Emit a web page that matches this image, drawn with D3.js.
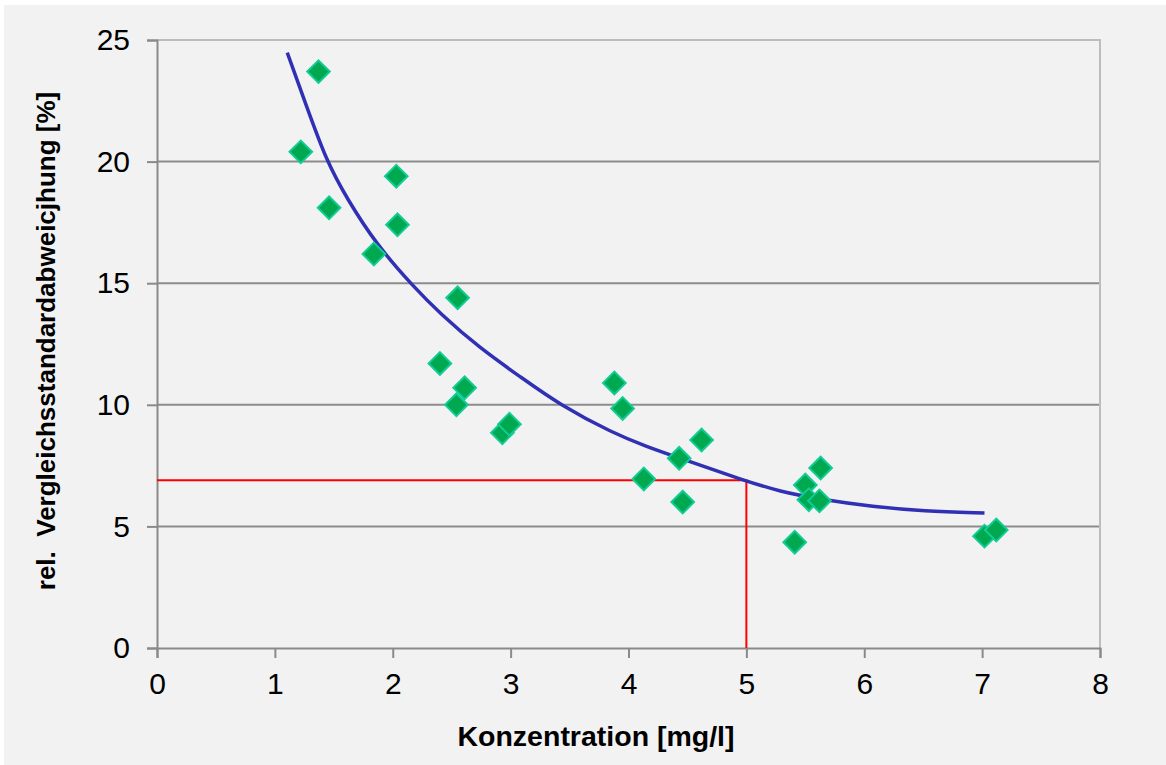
<!DOCTYPE html>
<html>
<head>
<meta charset="utf-8">
<script src="https://cdn.jsdelivr.net/npm/d3@7"></script>
<style>
  html, body { margin: 0; padding: 0; background: #fff; }
  svg { display: block; font-family: "Liberation Sans", Arial, sans-serif; }
</style>
</head>
<body>
<svg id="chart"></svg>
<script>
// measured points: concentration [mg/l] vs rel. reproducibility SD [%]
const konz = [1.37, 1.22, 1.46, 2.03, 2.04, 1.84, 2.55, 2.40, 2.61, 2.54, 2.93, 2.99,
              3.88, 3.95, 4.13, 4.43, 4.62, 4.46, 5.41, 5.50, 5.63, 5.53, 5.62, 7.02, 7.12]
const rsd  = [23.7, 20.4, 18.1, 19.4, 17.4, 16.2, 14.4, 11.7, 10.7, 10.0, 8.85, 9.2,
              10.9, 9.85, 6.95, 7.8, 8.55, 6.0, 4.35, 6.7, 7.4, 6.1, 6.05, 4.6, 4.85]

// trend line
const trendX = [1.105, 1.27, 1.44, 1.61, 1.864, 2.175, 2.40, 2.74, 3.08, 3.419, 3.87,
                4.154, 4.437, 4.97, 5.285, 5.625, 6.077, 6.5, 7.02]
const trendY = [24.48, 22.26, 20.0, 18.49, 16.57, 14.86, 13.76, 12.32, 11.16, 9.99, 8.83,
                8.28, 7.8, 6.91, 6.43, 6.12, 5.81, 5.63, 5.55]

// red reading lines
const readX = 5
const readY = 6.9

const xTicks = [0, 1, 2, 3, 4, 5, 6, 7, 8]
const yTicks = [0, 5, 10, 15, 20, 25]

const width = 1166
const height = 765
const margin = { top: 40, right: 66, bottom: 117, left: 157 }

const svg = d3.select('#chart')
    .attr('width', width)
    .attr('height', height)

// grey chart background
svg.append('rect')
    .attr('x', 4).attr('y', 5)
    .attr('width', width - 4).attr('height', height - 5)
    .attr('fill', '#f2f2f2')

const x = d3.scaleLinear()
    .domain([0, 8])
    .range([margin.left, width - margin.right])

const y = d3.scaleLinear()
    .domain([0, 25])
    .range([height - margin.bottom, margin.top])

// gridlines
svg.append('g')
    .selectAll('line')
    .data(yTicks.filter(d => d > 0 && d < 25))
    .enter()
    .append('line')
    .attr('x1', x(0)).attr('x2', x(8))
    .attr('y1', d => y(d)).attr('y2', d => y(d))
    .attr('stroke', '#8c8c8c')
    .attr('stroke-width', 2)

// plot area border (top / right)
svg.append('path')
    .attr('d', `M${x(0)},${y(25)}H${x(8)}V${y(0)}`)
    .attr('fill', 'none')
    .attr('stroke', '#bdbdbd')
    .attr('stroke-width', 2)

// axes
const xAxis = svg.append('g')
    .attr('transform', `translate(0,${y(0)})`)
    .call(d3.axisBottom(x).tickValues(xTicks).tickSize(10).tickPadding(15))

const yAxis = svg.append('g')
    .attr('transform', `translate(${x(0)},0)`)
    .call(d3.axisLeft(y).tickValues(yTicks).tickSize(10).tickPadding(17))

;[xAxis, yAxis].forEach(g => {
    g.select('.domain').attr('stroke', '#8a8a8a').attr('stroke-width', 2)
    g.selectAll('.tick line').attr('stroke', '#8a8a8a').attr('stroke-width', 2)
    g.selectAll('.tick text')
        .attr('fill', '#000')
        .style('font-size', '30px')
        .style('font-family', '"Liberation Sans", Arial, sans-serif')
})

// red reading lines
svg.append('path')
    .attr('d', `M${x(0)},${y(readY)}H${x(readX)}V${y(0)}`)
    .attr('fill', 'none')
    .attr('stroke', '#ff0000')
    .attr('stroke-width', 2)

// trend curve
const line = d3.line()
    .x(d => x(d[0]))
    .y(d => y(d[1]))
    .curve(d3.curveBasis)

svg.append('path')
    .datum(d3.zip(trendX, trendY))
    .attr('d', line)
    .attr('fill', 'none')
    .attr('stroke', '#3030b4')
    .attr('stroke-width', 3.5)

// diamond markers
const diamond = d3.symbol().type(d3.symbolSquare).size(256)

svg.append('g')
    .selectAll('path')
    .data(d3.zip(konz, rsd))
    .enter()
    .append('path')
    .attr('d', diamond)
    .attr('transform', d => `translate(${x(d[0])},${y(d[1])}) rotate(45)`)
    .attr('fill', '#00a84f')
    .attr('stroke', '#12cc96')
    .attr('stroke-width', 2)

// axis titles
svg.append('text')
    .attr('x', 596).attr('y', 746)
    .attr('text-anchor', 'middle')
    .style('font-size', '28.5px')
    .style('font-weight', 'bold')
    .text('Konzentration [mg/l]')

svg.append('text')
    .attr('transform', 'translate(55,341) rotate(-90)')
    .attr('text-anchor', 'middle')
    .style('font-size', '26px')
    .style('font-weight', 'bold')
    .style('white-space', 'pre')
    .text('rel.  Vergleichsstandardabweicjhung [%]')
</script>
</body>
</html>
